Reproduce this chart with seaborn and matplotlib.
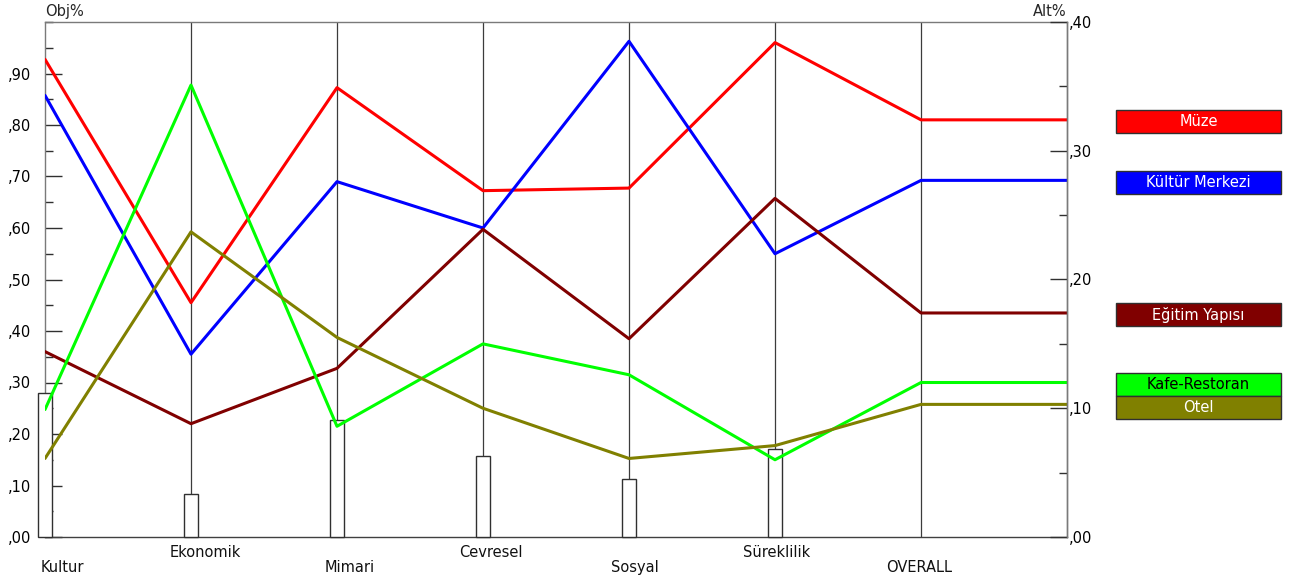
import matplotlib
matplotlib.use("Agg")
import matplotlib.pyplot as plt
from matplotlib.patches import Rectangle
from matplotlib.ticker import MultipleLocator, FixedLocator, FuncFormatter
import numpy as np
import pandas as pd
import seaborn as sns

# Criteria (objectives) and their priorities (Obj%)
criteria = ["Kultur", "Ekonomik", "Mimari", "Cevresel", "Sosyal", "Süreklilik", "OVERALL"]
obj_weights = [0.280, 0.084, 0.228, 0.158, 0.113, 0.171]

# Alternatives and their priorities under each criterion plus the overall result (Alt%)
alternatives = ["Müze", "Kültür Merkezi", "Eğitim Yapısı", "Kafe-Restoran", "Otel"]
alt_colors = ["#FF0000", "#0000FF", "#800000", "#00FF00", "#808000"]
label_colors = ["white", "white", "white", "black", "white"]
muze = [0.371, 0.182, 0.349, 0.269, 0.271, 0.384, 0.324]
kultur_merkezi = [0.343, 0.142, 0.276, 0.240, 0.385, 0.220, 0.277]
egitim_yapisi = [0.144, 0.088, 0.131, 0.239, 0.154, 0.263, 0.174]
kafe_restoran = [0.099, 0.351, 0.086, 0.150, 0.126, 0.060, 0.120]
otel = [0.061, 0.237, 0.155, 0.100, 0.061, 0.071, 0.103]
alt_values = [muze, kultur_merkezi, egitim_yapisi, kafe_restoran, otel]

sns.set_theme(style="white")
plt.rcParams["font.family"] = ["DejaVu Sans"]
plt.rcParams["font.size"] = 10

W, H = 1292, 583
fig = plt.figure(figsize=(W / 100, H / 100), dpi=100)
left, right, top, bottom = 45, 1067, 22, 537
ax = fig.add_axes([left / W, 1 - bottom / H, (right - left) / W, (bottom - top) / H])

n = len(criteria)
pos = np.arange(n)

# long-form table for the alternative lines; each line runs flat from OVERALL to the right axis
rows = []
for name, vals in zip(alternatives, alt_values):
    for i, v in enumerate(vals):
        rows.append({"alternative": name, "pos": float(i), "alt": v})
    rows.append({"alternative": name, "pos": float(n), "alt": vals[-1]})
df = pd.DataFrame(rows)

# criterion axes
for p in pos[1:]:
    ax.axvline(p, color="#3c3c3c", lw=0.9, zorder=1)

# objective priority bars
bars = pd.DataFrame({"pos": pos[:-1].astype(float), "w": obj_weights})
ax.bar(bars["pos"], bars["w"], width=0.095, color="white", edgecolor="#303030",
       linewidth=1.0, zorder=3, clip_on=False)

ax.set_xlim(0, n)
ax.set_ylim(0, 1.0)

ax2 = ax.twinx()
ax2.set_ylim(0, 0.40)
sns.lineplot(data=df, x="pos", y="alt", hue="alternative", hue_order=alternatives,
             palette=dict(zip(alternatives, alt_colors)), estimator=None, sort=False,
             linewidth=2.2, legend=False, ax=ax2)
ax2.set_xlim(0, n)
ax.set_xlabel("")
ax.set_ylabel("")
ax2.set_xlabel("")
ax2.set_ylabel("")

fmt = FuncFormatter(lambda v, _: "," + f"{int(round(v * 100)):02d}")

ax.yaxis.set_major_locator(FixedLocator(np.arange(0, 0.91, 0.1)))
ax.yaxis.set_minor_locator(MultipleLocator(0.05))
ax.yaxis.set_major_formatter(fmt)
ax.tick_params(axis="y", which="major", direction="in", length=12, width=1,
               color="#303030", pad=10, labelsize=10.5, left=True, labelcolor="black")
ax.tick_params(axis="y", which="minor", direction="in", length=6, width=1,
               color="#303030", left=True)
ax.set_xticks([])

ax2.yaxis.set_major_locator(MultipleLocator(0.10))
ax2.yaxis.set_minor_locator(MultipleLocator(0.05))
ax2.yaxis.set_major_formatter(fmt)
ax2.tick_params(axis="y", which="major", direction="in", length=12, width=1,
                color="#303030", pad=1, labelsize=10.5, right=True, labelcolor="black")
ax2.tick_params(axis="y", which="minor", direction="in", length=6, width=1,
                color="#303030", right=True)
ax2.set_xticks([])

for s in ax.spines.values():
    s.set_visible(True)
    s.set_color("#7a7a7a")
    s.set_linewidth(1.0)
ax.spines["bottom"].set_color("#404040")
for side in ("left", "top", "bottom"):
    ax2.spines[side].set_visible(False)
ax2.spines["right"].set_color("#7a7a7a")
ax2.spines["right"].set_linewidth(1.0)
ax.grid(False)
ax2.grid(False)
ax.set_facecolor("none")

# criterion names, alternating rows
label_offsets = [0.12, 0.10, 0.09, 0.055, 0.04, 0.01, -0.01]
for i, (name, off) in enumerate(zip(criteria, label_offsets)):
    y = -0.030 if i % 2 == 1 else -0.060
    ax.text(pos[i] + off, y, name, transform=ax.get_xaxis_transform(),
            ha="center", va="center", fontsize=10.5, color="#111111")

ax.text(0, 1.006, "Obj%", transform=ax.transAxes, ha="left", va="bottom", fontsize=10.5)
ax.text(1.0, 1.006, "Alt%", transform=ax.transAxes, ha="right", va="bottom", fontsize=10.5)

# legend boxes next to the right axis, placed at the overall values and kept from overlapping
fig.canvas.draw()
box_h = 23
box_x0, box_x1 = 1116, 1281
overall = [vals[-1] for vals in alt_values]
centers = [H - ax2.transData.transform((n, v))[1] for v in overall]
order = np.argsort(centers)
placed = {}
prev = -1e9
for k in order:
    c = max(centers[k] + 2, prev + box_h)
    placed[k] = c
    prev = c
for k, name in enumerate(alternatives):
    c = placed[k]
    fig.patches.append(Rectangle((box_x0 / W, 1 - (c + box_h / 2) / H),
                                 (box_x1 - box_x0) / W, box_h / H,
                                 transform=fig.transFigure, facecolor=alt_colors[k],
                                 edgecolor="#303030", linewidth=1.0))
    fig.text((box_x0 + box_x1) / 2 / W, 1 - c / H, name, ha="center", va="center",
             fontsize=10.5, color=label_colors[k])

fig.savefig("out.png", dpi=100, facecolor="white")
